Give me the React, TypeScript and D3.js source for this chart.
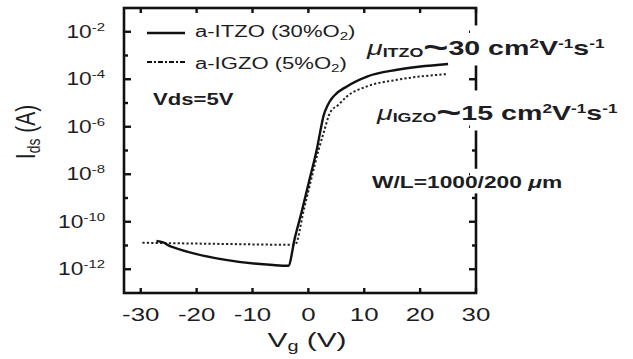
import { useEffect, useRef } from "react"
import * as d3 from "d3"

// transfer curves, Vg in V, Ids in A
const itzoVg = [-27.2, -26, -24.8, -6.3, -3.6, -2.4, -1.1, 0.2, 1.5, 2.1, 2.7, 3.5, 4.5, 6.9, 10.5, 15.9, 25]
const itzoIds = [
  1.55e-11, 1.35e-11, 9.5e-12, 1.5e-12, 1.4e-12, 2.2e-11, 3.3e-10, 6.0e-9, 1.1e-7, 5.8e-7, 2.8e-6, 8.5e-6,
  1.9e-5, 5.0e-5, 1.3e-4, 2.5e-4, 4.4e-4,
]
const igzoVg = [-29.7, -16, -2.4, -0.8, 0.5, 1.85, 2.75, 3.9, 5.4, 6.9, 10.5, 15.9, 25]
const igzoIds = [
  1.3e-11, 1.17e-11, 1.07e-11, 3.3e-10, 6.0e-9, 1.1e-7, 5.8e-7, 4.0e-6, 8.5e-6, 1.9e-5, 5.0e-5, 9.5e-5, 1.66e-4,
]

const xTicks = [-30, -20, -10, 0, 10, 20, 30]
const yMajorExps = [-2, -4, -6, -8, -10, -12]
const yMinorExps = [-3, -5, -7, -9, -11]

const FONT = "'Liberation Sans', Arial, Helvetica, sans-serif"
const INK = "#1d1d24"

type Part = { t: string; size: number; weight?: string; italic?: boolean; shift?: number }

export default function App() {
  const svgRef = useRef<SVGSVGElement>(null)

  useEffect(() => {
    if (!svgRef.current) return
    const svg = d3.select(svgRef.current)
    svg.selectAll("*").remove()

    const left = 124
    const right = 476
    const top = 8
    const bottom = 293

    const x = d3.scaleLinear().domain([-33, 30]).range([left, right])
    const y = d3.scaleLog().domain([1e-13, 1e-1]).range([bottom, top])

    const addText = (
      px: number,
      py: number,
      sx: number,
      anchor: string,
      parts: Part[],
      opts: { rotate?: boolean; knockout?: boolean } = {},
    ) => {
      const tr = opts.rotate
        ? `translate(${px},${py}) rotate(-90) scale(1,${sx})`
        : `translate(${px},${py}) scale(${sx},1)`
      const outer = svg.append("g")
      const t = outer
        .append("g")
        .attr("transform", tr)
        .append("text")
        .attr("text-anchor", anchor)
        .attr("font-family", FONT)
        .attr("fill", INK)
      let cur = 0
      parts.forEach((p) => {
        const s = p.shift ?? 0
        t.append("tspan")
          .attr("dy", s - cur)
          .attr("font-size", p.size)
          .attr("font-weight", p.weight ?? "normal")
          .attr("font-style", p.italic ? "italic" : "normal")
          .text(p.t)
        cur = s
      })
      if (opts.knockout) {
        // the text sits on a white patch that hides the right axis under it
        const b = (outer.node() as SVGGElement).getBBox()
        outer
          .insert("rect", ":first-child")
          .attr("x", right - 6)
          .attr("width", 12)
          .attr("y", b.y - 4)
          .attr("height", b.height + 6)
          .attr("fill", "white")
      }
    }

    // curves
    const line = d3
      .line<[number, number]>()
      .x((d) => x(d[0]))
      .y((d) => y(d[1]))
      .curve(d3.curveMonotoneX)

    svg
      .append("path")
      .datum(igzoVg.map((v, i) => [v, igzoIds[i]] as [number, number]))
      .attr("fill", "none")
      .attr("stroke", "#222")
      .attr("stroke-width", 2)
      .attr("stroke-dasharray", "2.2,2.2")
      .attr("d", line)

    svg
      .append("path")
      .datum(itzoVg.map((v, i) => [v, itzoIds[i]] as [number, number]))
      .attr("fill", "none")
      .attr("stroke", "#111")
      .attr("stroke-width", 2.4)
      .attr("d", line)

    // ticks
    const tickG = svg.append("g").attr("stroke", "#111").attr("stroke-width", 2.4)
    xTicks.forEach((v) => {
      tickG.append("line").attr("x1", x(v)).attr("x2", x(v)).attr("y1", top).attr("y2", top + 5)
      tickG.append("line").attr("x1", x(v)).attr("x2", x(v)).attr("y1", bottom).attr("y2", bottom - 5)
    })
    yMajorExps.forEach((e) => {
      const yy = y(Math.pow(10, e))
      tickG.append("line").attr("x1", left).attr("x2", left + 7).attr("y1", yy).attr("y2", yy)
      tickG.append("line").attr("x1", right).attr("x2", right - 7).attr("y1", yy).attr("y2", yy)
    })
    yMinorExps.forEach((e) => {
      const yy = y(Math.pow(10, e))
      tickG.append("line").attr("x1", left).attr("x2", left + 4).attr("y1", yy).attr("y2", yy)
      tickG.append("line").attr("x1", right).attr("x2", right - 4).attr("y1", yy).attr("y2", yy)
    })

    // frame
    svg
      .append("rect")
      .attr("x", left)
      .attr("y", top)
      .attr("width", right - left)
      .attr("height", bottom - top)
      .attr("fill", "none")
      .attr("stroke", "#111")
      .attr("stroke-width", 2.6)

    // tick labels
    xTicks.forEach((v) => {
      addText(x(v), 321, 1.4, "middle", [{ t: String(v), size: 18.5 }])
    })
    yMajorExps.forEach((e) => {
      addText(105, y(Math.pow(10, e)) + 6, 1.3, "end", [
        { t: "10", size: 17.5 },
        { t: String(e), size: 11.5, shift: -7 },
      ])
    })

    // axis titles
    addText(
      35,
      132,
      1.35,
      "middle",
      [
        { t: "I", size: 21 },
        { t: "ds", size: 14, shift: 4 },
        { t: " (A)", size: 21, shift: 0 },
      ],
      { rotate: true },
    )
    addText(307, 347, 1.42, "middle", [
      { t: "V", size: 21 },
      { t: "g", size: 14, shift: 4 },
      { t: " (V)", size: 21, shift: 0 },
    ])

    // legend
    svg.append("line").attr("x1", 147).attr("x2", 185).attr("y1", 33).attr("y2", 33).attr("stroke", "#111").attr("stroke-width", 2.4)
    svg
      .append("line")
      .attr("x1", 147)
      .attr("x2", 185)
      .attr("y1", 62)
      .attr("y2", 62)
      .attr("stroke", "#111")
      .attr("stroke-width", 2.2)
      .attr("stroke-dasharray", "5,2,2,2")
    addText(195, 37, 1.38, "start", [
      { t: "a-ITZO (30%O", size: 16 },
      { t: "2", size: 11, shift: 3 },
      { t: ")", size: 16, shift: 0 },
    ])
    addText(195, 69, 1.38, "start", [
      { t: "a-IGZO (5%O", size: 16 },
      { t: "2", size: 11, shift: 3 },
      { t: ")", size: 16, shift: 0 },
    ])

    addText(153, 105, 1.3, "start", [{ t: "Vds=5V", size: 17, weight: "bold" }])

    // mobility notes
    const mobility = (px: number, py: number, name: string, value: string) =>
      addText(
        px,
        py,
        1.43,
        "start",
        [
          { t: "\u03bc", size: 20, italic: true },
          { t: name, size: 12.5, weight: "bold", shift: 2 },
          { t: "~", size: 30, weight: "bold", shift: 2 },
          { t: `${value} cm`, size: 20, weight: "bold", shift: 0 },
          { t: "2", size: 12, weight: "bold", shift: -7 },
          { t: "V", size: 20, weight: "bold", shift: 0 },
          { t: "-1", size: 12, weight: "bold", shift: -7 },
          { t: "s", size: 20, weight: "bold", shift: 0 },
          { t: "-1", size: 12, weight: "bold", shift: -7 },
        ],
        { knockout: true },
      )
    mobility(367, 55, "ITZO", "30")
    mobility(377, 120, "IGZO", "15")

    addText(
      372,
      188,
      1.34,
      "start",
      [
        { t: "W/L=1000/200 ", size: 17, weight: "bold" },
        { t: "\u03bc", size: 17, weight: "bold", italic: true },
        { t: "m", size: 17, weight: "bold" },
      ],
      { knockout: true },
    )
  }, [])

  return (
    <svg
      ref={svgRef}
      width={633}
      height={359}
      style={{ position: "absolute", left: 0, top: 0, background: "white" }}
    ></svg>
  )
}
